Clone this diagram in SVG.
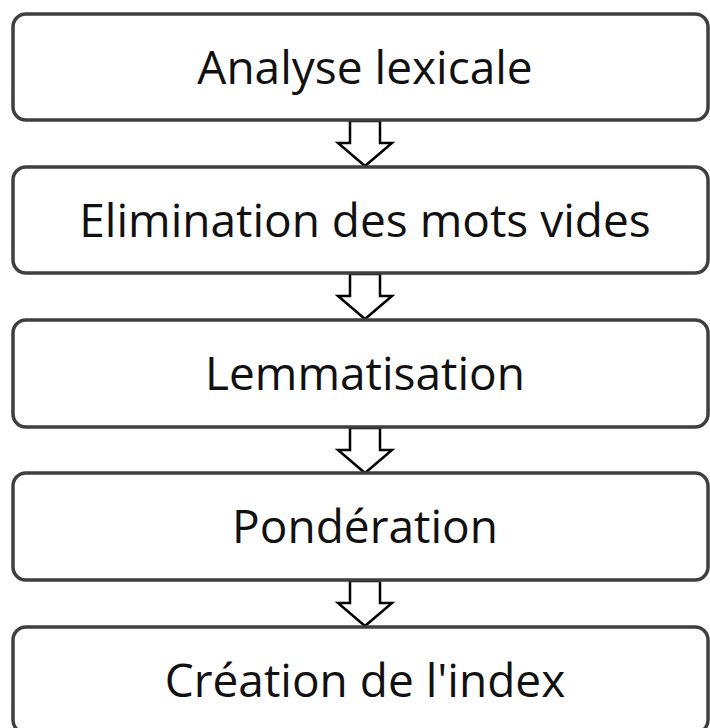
<svg xmlns="http://www.w3.org/2000/svg" width="710" height="728" viewBox="0 0 710 728">
<style>
.box{fill:#ffffff;stroke:#3f3f3f;stroke-width:3.5}
.lbl{font-family:"Open Sans","Liberation Sans",sans-serif;font-size:46px;fill:#111111;text-anchor:middle}
.arr{fill:#ffffff;stroke:#000000;stroke-width:2.5;stroke-linejoin:miter}
</style>
<defs>
<path id="arrow" class="arr" d="M350,0 L380,0 L380,22 L392,22 L365,45 L338,22 L350,22 Z"/>
</defs>
<rect width="710" height="728" fill="#ffffff"/>
<g id="connectors">
<use href="#arrow" y="121"/>
<use href="#arrow" y="274"/>
<use href="#arrow" y="428"/>
<use href="#arrow" y="581"/>
</g>
<g id="n1"><rect class="box" x="13" y="14" width="695" height="106" rx="13"/><text class="lbl" x="365" y="84">Analyse lexicale</text></g>
<g id="n2"><rect class="box" x="13" y="167" width="695" height="106" rx="13"/><text class="lbl" x="365" y="237">Elimination des mots vides</text></g>
<g id="n3"><rect class="box" x="13" y="320" width="695" height="107" rx="13"/><text class="lbl" x="365" y="390">Lemmatisation</text></g>
<g id="n4"><rect class="box" x="13" y="473" width="695" height="107" rx="13"/><text class="lbl" x="365" y="543">Pondération</text></g>
<g id="n5"><rect class="box" x="13" y="627" width="695" height="106" rx="13"/><text class="lbl" x="365" y="697">Création de l'index</text></g>
</svg>
